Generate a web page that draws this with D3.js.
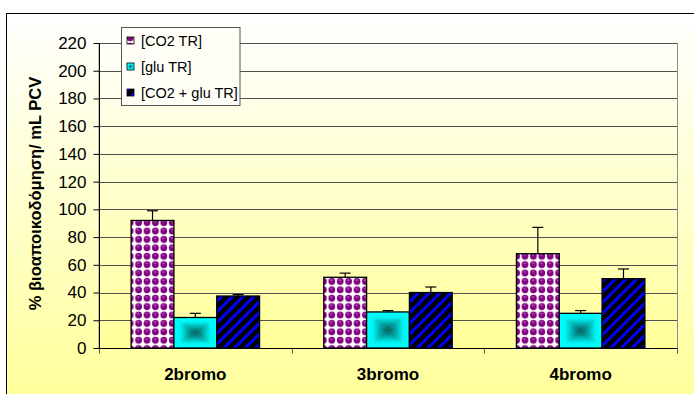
<!DOCTYPE html>
<html>
<head>
<meta charset="utf-8">
<script src="https://cdn.jsdelivr.net/npm/d3@7"></script>
<style>
  html, body { margin: 0; padding: 0; background: #fff; }
  svg { display: block; font-family: Arial, "Liberation Sans", sans-serif; }
</style>
</head>
<body>
<svg id="chart" width="694" height="394"></svg>
<script>
// Biodegradation per mL PCV for three bromo compounds, three treatments
const categories = ["2bromo", "3bromo", "4bromo"];
const seriesNames = ["[CO2 TR]", "[glu TR]", "[CO2 + glu TR]"];
const co2Values = [92, 51, 68];
const gluValues = [22, 26, 25];
const co2GluValues = [37.5, 40, 50];
const co2Errors = [7, 3, 19];
const gluErrors = [3, 1, 2];
const co2GluErrors = [1, 4, 7];
const yTicks = [0, 20, 40, 60, 80, 100, 120, 140, 160, 180, 200, 220];
const yTitle = "% βιοαποικοδόμηση/ mL PCV";

const seriesValues = [co2Values, gluValues, co2GluValues];
const seriesErrors = [co2Errors, gluErrors, co2GluErrors];

const svg = d3.select("#chart");
const W = 694, H = 394;
const plot = { left: 99, right: 677, top: 43, bottom: 348 };

const defs = svg.append("defs");

// background gradients (white at top fading to pale yellow)
function vGrad(id, c0, c1) {
  const g = defs.append("linearGradient").attr("id", id)
    .attr("x1", 0).attr("y1", 0).attr("x2", 0).attr("y2", 1);
  g.append("stop").attr("offset", 0).attr("stop-color", c0);
  g.append("stop").attr("offset", 1).attr("stop-color", c1);
}
vGrad("chartBg", "#ffffff", "#ffff98");
vGrad("plotBg", "#fffffa", "#ffff99");

// sphere pattern for CO2 TR
const P = 8.4;
const sp = defs.append("pattern").attr("id", "spheres")
  .attr("patternUnits", "userSpaceOnUse").attr("width", P).attr("height", P);
sp.append("rect").attr("width", P).attr("height", P).attr("fill", "#ffffff");
const sg = defs.append("radialGradient").attr("id", "sphereShade")
  .attr("cx", 0.45).attr("cy", 0.32).attr("r", 0.7);
sg.append("stop").attr("offset", 0).attr("stop-color", "#c878c8");
sg.append("stop").attr("offset", 0.3).attr("stop-color", "#860686");
sg.append("stop").attr("offset", 1).attr("stop-color", "#780078");
sp.append("circle").attr("cx", P / 2).attr("cy", P / 2).attr("r", 3.4).attr("fill", "url(#sphereShade)");

// diagonal stripes for CO2 + glu TR
const st = defs.append("pattern").attr("id", "stripes")
  .attr("patternUnits", "userSpaceOnUse").attr("width", 7.6).attr("height", 7.6)
  .attr("patternTransform", "rotate(45)");
st.append("rect").attr("width", 7.6).attr("height", 7.6).attr("fill", "#000000");
st.append("rect").attr("width", 3).attr("height", 7.6).attr("fill", "#0000ff");

// four-sided gradients for glu TR (cyan edges to dark teal centre)
const gluStops = [[0, "#00ffff"], [0.3, "#00f4f4"], [0.7, "#009c9c"], [1, "#005a5a"]];
[["gTop", 0, 0, 0, 1], ["gBottom", 0, 1, 0, 0], ["gLeft", 0, 0, 1, 0], ["gRight", 1, 0, 0, 0]]
  .forEach(([id, x1, y1, x2, y2]) => {
    const g = defs.append("linearGradient").attr("id", id)
      .attr("x1", x1).attr("y1", y1).attr("x2", x2).attr("y2", y2);
    gluStops.forEach(([o, c]) => g.append("stop").attr("offset", o).attr("stop-color", c));
  });
const gRad = defs.append("radialGradient").attr("id", "gluRadial");
gluStops.slice().reverse().forEach(([o, c]) =>
  gRad.append("stop").attr("offset", 1 - o).attr("stop-color", c));

// chart area
svg.append("rect").attr("x", 6.5).attr("y", 13.5).attr("width", W).attr("height", H)
  .attr("fill", "url(#chartBg)").attr("stroke", "#000").attr("stroke-width", 1);

// scales
const y = d3.scaleLinear().domain([0, 220]).range([plot.bottom, plot.top]);
const x0 = d3.scaleBand().domain(categories).range([plot.left, plot.right]).padding(0);
// 150% gap width: the three bars fill 2/3 of each category band
const x1 = d3.scaleBand().domain(d3.range(3))
  .range([x0.bandwidth() / 6, x0.bandwidth() * 5 / 6]).padding(0);

// plot area
svg.append("rect").attr("x", plot.left).attr("y", plot.top + 0.5)
  .attr("width", plot.right - plot.left + 0.5).attr("height", plot.bottom - plot.top)
  .attr("fill", "url(#plotBg)").attr("stroke", "#8c8c8c").attr("stroke-width", 1);

// gridlines
svg.append("g").selectAll("line").data(yTicks.filter(v => v > 0)).join("line")
  .attr("x1", plot.left).attr("x2", plot.right)
  .attr("y1", d => Math.round(y(d)) + 0.5).attr("y2", d => Math.round(y(d)) + 0.5)
  .attr("stroke", "#505050").attr("stroke-width", 1);

// bars
const fills = ["url(#spheres)", null, "url(#stripes)"];
const barsG = svg.append("g");
categories.forEach((cat, ci) => {
  seriesValues.forEach((vals, si) => {
    const bx = x0(cat) + x1(si);
    const bw = x1.bandwidth();
    const by = y(vals[ci]);
    const bh = y(0) - by;
    if (si === 1) {
      const cx = bx + bw / 2, cy = by + bh / 2;
      const pts = [
        ["gTop", [[bx, by], [bx + bw, by], [cx, cy]]],
        ["gBottom", [[bx, by + bh], [bx + bw, by + bh], [cx, cy]]],
        ["gLeft", [[bx, by], [bx, by + bh], [cx, cy]]],
        ["gRight", [[bx + bw, by], [bx + bw, by + bh], [cx, cy]]]
      ];
      pts.forEach(([g, p]) => barsG.append("polygon")
        .attr("points", p.map(q => q.join(",")).join(" "))
        .attr("fill", `url(#${g})`).attr("stroke", `url(#${g})`).attr("stroke-width", 0.4));
      barsG.append("rect").attr("x", bx).attr("y", by).attr("width", bw).attr("height", bh)
        .attr("fill", "none").attr("stroke", "#000").attr("stroke-width", 1.3);
    } else {
      barsG.append("rect").attr("x", bx).attr("y", by).attr("width", bw).attr("height", bh)
        .attr("fill", fills[si]).attr("stroke", "#000").attr("stroke-width", 1.3);
    }
    // error bar (plus direction)
    const ex = bx + bw / 2;
    const ey = y(vals[ci] + seriesErrors[si][ci]);
    barsG.append("line").attr("x1", ex).attr("x2", ex).attr("y1", by).attr("y2", ey)
      .attr("stroke", "#000").attr("stroke-width", 1.2);
    barsG.append("line").attr("x1", ex - 5.5).attr("x2", ex + 5.5).attr("y1", ey).attr("y2", ey)
      .attr("stroke", "#000").attr("stroke-width", 1.2);
  });
});

// y axis
const yAxis = svg.append("g").attr("transform", `translate(${plot.left + 0.5},0)`)
  .call(d3.axisLeft(y).tickValues(yTicks).tickSize(6).tickPadding(7).tickFormat(d3.format("d")));
yAxis.select(".domain").attr("stroke", "#000").attr("d", `M0,${plot.top}V${plot.bottom + 4}`);
yAxis.selectAll(".tick line").attr("stroke", "#000");
yAxis.selectAll("text").attr("font-size", 17).attr("fill", "#000")
  .attr("font-family", "Arial, 'Liberation Sans', sans-serif");

// x axis
const xAxis = svg.append("g").attr("transform", `translate(0,${plot.bottom + 0.5})`);
xAxis.append("line").attr("x1", plot.left).attr("x2", plot.right + 0.5).attr("stroke", "#000");
xAxis.selectAll("line.tk").data(categories.map(c => x0(c)).concat([plot.right])).join("line")
  .attr("class", "tk").attr("x1", d => Math.round(d) + 0.5).attr("x2", d => Math.round(d) + 0.5)
  .attr("y1", 0).attr("y2", 5).attr("stroke", "#555");
xAxis.selectAll("text").data(categories).join("text")
  .attr("x", d => x0(d) + x0.bandwidth() / 2).attr("y", 31)
  .attr("text-anchor", "middle").attr("font-size", 17).attr("font-weight", "bold")
  .text(d => d);

// y title
svg.append("text").attr("transform", `translate(41,${(plot.top + plot.bottom) / 2 - 2}) rotate(-90)`)
  .attr("text-anchor", "middle").attr("font-size", 16.5).attr("font-weight", "bold")
  .text(yTitle);

// legend
const lg = svg.append("g");
lg.append("rect").attr("x", 121.5).attr("y", 27.5).attr("width", 118.5).attr("height", 78)
  .attr("fill", "#fffff8").attr("stroke", "#555");
const legendFills = ["url(#spheres)", "url(#gluRadial)", "url(#stripes)"];
seriesNames.forEach((name, i) => {
  const cy = 40.5 + i * 26;
  lg.append("rect").attr("x", 127).attr("y", cy - 3.5).attr("width", 7).attr("height", 7)
    .attr("fill", legendFills[i]).attr("stroke", "#000").attr("stroke-width", 0.8);
  lg.append("text").attr("x", 141).attr("y", cy).attr("dy", "0.36em")
    .attr("font-size", 14.5).text(name);
});
</script>
</body>
</html>
